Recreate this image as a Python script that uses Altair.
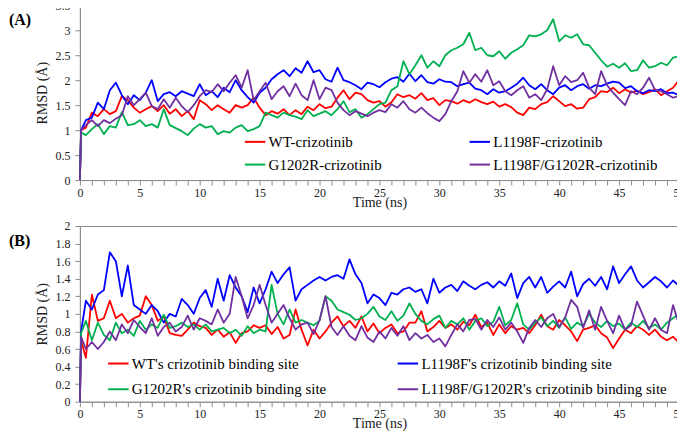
import altair as alt
import pandas as pd

# sampling times (ns): start, first frame, then every 0.5 ns
time_ns = [0, 0.1] + [0.5 * k for k in range(1, 101)]

names_a = ["WT-crizotinib", "L1198F-crizotinib", "G1202R-crizotinib", "L1198F/G1202R-crizotinib"]
names_b = ["WT's crizotinib binding site", "L1198F's crizotinib binding site",
           "G1202R's crizotinib binding site", "L1198F/G1202R's crizotinib binding site"]
colors = ["#FF0000", "#0000FF", "#00B050", "#7030A0"]

# ---- Panel A: complex RMSD ----
wt_a = [0, 1.0,
        1.05, 1.35, 1.28, 1.42, 1.32, 1.38, 1.68, 1.6, 1.45, 1.35,
        1.42, 1.48, 1.38, 1.5, 1.33, 1.42, 1.28, 1.38, 1.22, 1.6,
        1.52, 1.4, 1.5, 1.42, 1.35, 1.5, 1.45, 1.5, 1.65, 1.45,
        1.3, 1.38, 1.33, 1.42, 1.3, 1.4, 1.32, 1.47, 1.4, 1.52,
        1.44, 1.47, 1.65, 1.8, 1.62, 1.75, 1.72, 1.6, 1.55, 1.58,
        1.47, 1.56, 1.72, 1.66, 1.7, 1.63, 1.74, 1.6, 1.64, 1.5,
        1.6, 1.58, 1.53, 1.6, 1.55, 1.62, 1.56, 1.52, 1.57, 1.47,
        1.52, 1.46, 1.35, 1.3, 1.45, 1.42, 1.52, 1.56, 1.68, 1.58,
        1.48, 1.52, 1.43, 1.45, 1.62, 1.66, 1.78, 1.76, 1.85, 1.74,
        1.82, 1.75, 1.79, 1.72, 1.76, 1.82, 1.7, 1.78, 1.85, 2.0]
l1198f_a = [0, 1.0,
            1.2, 1.25, 1.55, 1.42, 1.8, 1.95, 1.7, 1.52, 1.7, 1.6,
            1.75, 2.0, 1.58, 1.72, 1.76, 1.68, 1.78, 1.73, 1.68, 1.92,
            1.7, 1.78, 1.66, 1.85, 1.76, 2.0, 1.8, 1.66, 1.55, 1.75,
            1.85, 2.02, 2.12, 2.2, 2.08, 2.24, 2.15, 2.38, 2.16, 2.2,
            2.02, 1.97, 2.25, 2.0, 1.96, 1.9, 1.82, 1.95, 1.92, 1.86,
            1.96, 2.03, 2.06, 1.97, 2.13, 1.98, 2.1, 1.96, 1.93, 2.02,
            1.97, 1.96, 1.88, 1.92, 1.95, 1.83, 1.8, 1.72, 1.82, 1.75,
            1.78, 1.85, 1.93, 2.05, 1.9, 1.82, 1.92, 1.8, 1.72, 1.85,
            1.9, 1.8, 1.88, 1.92, 1.83, 1.9, 1.88, 1.93, 1.97, 1.95,
            1.84, 1.88, 1.78, 1.74, 1.8, 1.78, 1.82, 1.74, 1.75, 1.7]
g1202r_a = [0, 0.95,
            0.9, 1.02, 1.12, 0.92, 1.08, 1.05, 1.36, 1.1, 1.12, 1.2,
            1.08, 1.12, 1.05, 1.42, 1.1, 1.04, 0.98, 0.9, 1.03, 1.12,
            1.05, 1.08, 0.92, 0.98, 0.95, 1.05, 1.1, 0.98, 1.02, 1.08,
            1.35, 1.3, 1.25, 1.35, 1.3, 1.27, 1.22, 1.4, 1.28, 1.33,
            1.38, 1.3, 1.42, 1.58, 1.36, 1.42, 1.25, 1.32, 1.42, 1.52,
            1.55, 1.8, 1.88, 2.38, 2.12, 2.3, 2.5, 2.25, 2.38, 2.28,
            2.5, 2.6, 2.65, 2.72, 2.95, 2.6, 2.65, 2.5, 2.48, 2.58,
            2.43, 2.55, 2.62, 2.7, 2.9, 2.88, 2.92, 3.0, 3.22, 2.78,
            2.9, 2.85, 2.92, 2.72, 2.7, 2.55, 2.4, 2.27, 2.33, 2.25,
            2.34, 2.18, 2.2, 2.4, 2.25, 2.28, 2.35, 2.3, 2.45, 2.48]
double_a = [0, 1.0,
            1.1, 1.2, 1.08, 1.2, 1.14, 1.23, 1.3, 1.68, 1.5, 1.62,
            1.75, 1.48, 1.42, 1.62, 1.45, 1.65, 1.48, 1.36, 1.5, 1.68,
            1.8, 1.76, 1.92, 1.78, 1.95, 2.1, 1.85, 2.2, 1.6, 1.78,
            1.95, 1.62, 1.78, 1.88, 1.68, 1.93, 1.7, 1.6, 2.0, 1.62,
            1.85, 1.8, 1.55, 1.4, 1.3, 1.38, 1.33, 1.28, 1.35, 1.4,
            1.36, 1.52, 1.45, 1.58, 1.42, 1.35, 1.45, 1.34, 1.25, 1.18,
            1.32, 1.58, 1.78, 2.18, 1.95, 2.12, 1.97, 2.2, 1.9, 1.98,
            1.78, 1.7, 1.8, 1.88, 1.65, 1.72, 1.6, 1.82, 2.28, 1.9,
            2.08, 1.96, 2.0, 2.15, 1.85, 1.72, 2.18, 1.9, 1.75, 1.62,
            1.5, 1.78, 1.72, 1.85, 2.05, 1.8, 1.78, 1.72, 1.65, 1.68]

# ---- Panel B: binding-site RMSD ----
wt_b = [0, 0.7,
        0.5, 1.22, 0.92, 0.95, 1.15, 0.95, 1.0, 0.9, 0.95, 0.98,
        1.2, 1.1, 0.92, 0.97, 0.78, 0.76, 0.75, 0.82, 0.9, 0.86,
        0.84, 0.76, 0.82, 0.74, 0.79, 0.67, 0.78, 0.8, 0.87, 0.84,
        0.87, 0.77, 0.85, 0.72, 0.76, 1.05, 0.82, 0.64, 0.82, 0.72,
        0.8, 0.9, 0.97, 0.86, 0.92, 0.84, 0.97, 0.8, 0.89, 0.78,
        0.84, 0.88, 0.78, 0.8, 0.9, 0.9, 1.03, 0.8, 0.85, 0.92,
        0.84, 0.88, 0.82, 0.91, 0.87, 0.99, 0.85, 0.9, 0.76, 0.88,
        0.78, 0.86, 0.82, 0.84, 0.78, 0.87, 0.99, 0.86, 0.82, 0.93,
        0.87, 0.8, 0.69, 0.82, 0.84, 0.87, 0.78, 0.73, 0.61, 0.72,
        0.82, 0.78, 0.86, 0.82, 0.76, 0.82, 0.74, 0.7, 0.74, 0.67]
l1198f_b = [0, 0.8,
            1.15, 1.05, 1.22, 1.27, 1.7, 1.6, 1.2, 1.55, 1.1, 1.05,
            1.0, 1.1, 1.03, 0.9, 1.0, 0.97, 1.17, 1.1, 1.0, 1.18,
            1.27, 1.08, 1.4, 1.15, 1.44, 1.3, 1.2, 1.02, 1.3, 1.12,
            1.28, 1.48, 1.35, 1.45, 1.53, 1.15, 1.28, 1.33, 1.38, 1.42,
            1.38, 1.42, 1.44, 1.4, 1.62, 1.45, 1.35, 1.12, 1.22, 1.18,
            1.1, 1.24, 1.22, 1.28, 1.3, 1.25, 1.28, 1.12, 1.4, 1.24,
            1.3, 1.33, 1.26, 1.37, 1.32, 1.28, 1.33, 1.36, 1.3, 1.37,
            1.32, 1.46, 1.18, 1.35, 1.42, 1.3, 1.42, 1.24, 1.31, 1.37,
            1.3, 1.48, 1.2, 1.34, 1.4, 1.32, 1.42, 1.28, 1.54, 1.35,
            1.45, 1.54, 1.38, 1.3, 1.36, 1.42, 1.37, 1.3, 1.38, 1.32]
g1202r_b = [0, 0.78,
            0.92, 0.7, 0.9, 0.76, 0.7, 0.9, 0.78, 0.82, 0.75, 0.92,
            0.82, 0.88, 0.84, 0.99, 0.84, 0.86, 0.9, 0.85, 0.88, 0.82,
            0.88, 0.8, 0.82, 0.84, 0.78, 0.82, 0.75, 0.86, 0.78, 0.82,
            0.8, 1.33, 1.0, 0.88, 1.05, 0.9, 0.93, 0.9, 0.87, 0.92,
            1.2, 1.15, 1.05, 1.02, 0.99, 0.93, 0.95, 1.0, 1.08, 0.97,
            0.93, 1.03, 0.92, 0.98, 1.12, 1.0, 0.92, 0.88, 0.94, 0.98,
            0.84, 0.92, 0.88, 0.95, 0.82, 0.92, 0.95, 0.86, 0.91, 1.08,
            0.87, 0.93, 1.12, 0.88, 0.82, 0.9, 0.96, 0.86, 0.92, 0.84,
            0.96, 0.83, 0.9, 0.86, 1.0, 0.9, 0.85, 0.92, 0.86, 0.89,
            0.82, 0.9, 0.85, 0.92, 0.84, 0.88, 0.82, 0.9, 0.95, 1.0]
double_b = [0, 0.74,
            0.6, 0.68, 0.6, 0.68, 0.8, 0.7, 0.88, 0.78, 0.93, 0.85,
            0.78, 0.95, 0.75, 0.85, 0.9, 0.8, 0.85, 0.98, 0.82, 0.95,
            0.92, 0.88, 1.05, 0.9, 1.0, 1.42, 1.2, 0.95, 1.1, 1.33,
            1.1, 0.9, 1.0, 1.1, 0.95, 0.82, 0.88, 0.9, 0.77, 0.93,
            1.2, 0.85, 0.76, 0.86, 0.75, 0.7, 0.86, 0.73, 0.68, 0.8,
            0.72, 0.84, 0.75, 0.86, 0.7, 0.78, 0.72, 0.76, 0.68, 0.72,
            0.63, 0.76, 0.88, 0.8, 0.93, 0.94, 0.82, 0.93, 0.85, 0.96,
            0.82, 0.9, 0.8, 0.67, 0.84, 0.93, 0.85, 0.95, 1.0, 0.85,
            0.96, 1.16, 1.08, 0.84, 1.04, 0.82, 1.08, 0.92, 0.78, 0.98,
            0.82, 0.87, 1.14, 0.98, 0.82, 0.95, 0.82, 0.78, 1.1, 0.88]

x_ticks = list(range(0, 51))
y_ticks_a = [0, 0.5, 1, 1.5, 2, 2.5, 3, 3.5]
y_ticks_b = [0, 0.2, 0.4, 0.6, 0.8, 1, 1.2, 1.4, 1.6, 1.8, 2]

SERIF = "Liberation Serif, Times New Roman, serif"


def long_frame(names, series):
    rows = []
    for name, vals in zip(names, series):
        assert len(vals) == len(time_ns), (name, len(vals))
        for t, v in zip(time_ns, vals):
            rows.append({"time": t, "rmsd": v, "system": name})
    return pd.DataFrame(rows)


def panel(df, names, y_ticks, tag, height, lx, ly, col_pad, row_pad):
    lines = alt.Chart(df).mark_line(strokeWidth=1.8, strokeJoin="round").encode(
        x=alt.X("time:Q", scale=alt.Scale(domain=[0, 50], nice=False),
                axis=alt.Axis(values=x_ticks,
                              labelExpr="datum.value % 5 === 0 ? datum.label : ''",
                              title="Time (ns)", titleY=15, labelPadding=2)),
        y=alt.Y("rmsd:Q", scale=alt.Scale(domain=[y_ticks[0], y_ticks[-1]], nice=False),
                axis=alt.Axis(values=y_ticks, format=".1~f", title="RMSD (Å)",
                              titlePadding=5, labelPadding=5)),
        color=alt.Color("system:N", sort=names,
                        scale=alt.Scale(domain=names, range=colors),
                        legend=alt.Legend(title=None, orient="none", legendX=lx, legendY=ly,
                                          direction="horizontal", columns=2,
                                          columnPadding=col_pad, rowPadding=row_pad,
                                          symbolType="stroke", symbolSize=420,
                                          symbolStrokeWidth=2, labelFont=SERIF,
                                          labelFontSize=15, labelColor="black",
                                          labelOffset=2, padding=0, labelLimit=0)),
    )
    label = alt.Chart(pd.DataFrame({"tag": [tag]})).mark_text(
        align="left", baseline="middle", font=SERIF, fontSize=16,
        fontWeight="bold", color="black"
    ).encode(text="tag:N", x=alt.value(-71), y=alt.value(15))
    return alt.layer(lines, label).properties(width=600, height=height)


df_a = long_frame(names_a, [wt_a, l1198f_a, g1202r_a, double_a])
df_b = long_frame(names_b, [wt_b, l1198f_b, g1202r_b, double_b])

panel_a = panel(df_a, names_a, y_ticks_a, "(A)", 175, 164, 125, 83, 3)
panel_b = panel(df_b, names_b, y_ticks_b, "(B)", 176, 27, 126, 67, 6)

chart = alt.vconcat(panel_a, panel_b, spacing=9).resolve_scale(
    color="independent", x="independent", y="independent"
).resolve_legend(color="independent").properties(
    padding={"top": -10, "left": 0, "right": -9, "bottom": 0}
).configure_view(stroke="#8c8c8c", strokeWidth=1).configure_axis(
    domainColor="#8c8c8c", tickColor="#8c8c8c", grid=False, tickSize=5,
    labelFont=SERIF, labelFontSize=12, labelColor="#222",
    titleFont=SERIF, titleFontSize=14, titleFontWeight="normal", titleColor="#222",
    labelFlush=False, labelOverlap=False
)

chart.save("out.html", embed_options={"renderer": "svg", "actions": False})
